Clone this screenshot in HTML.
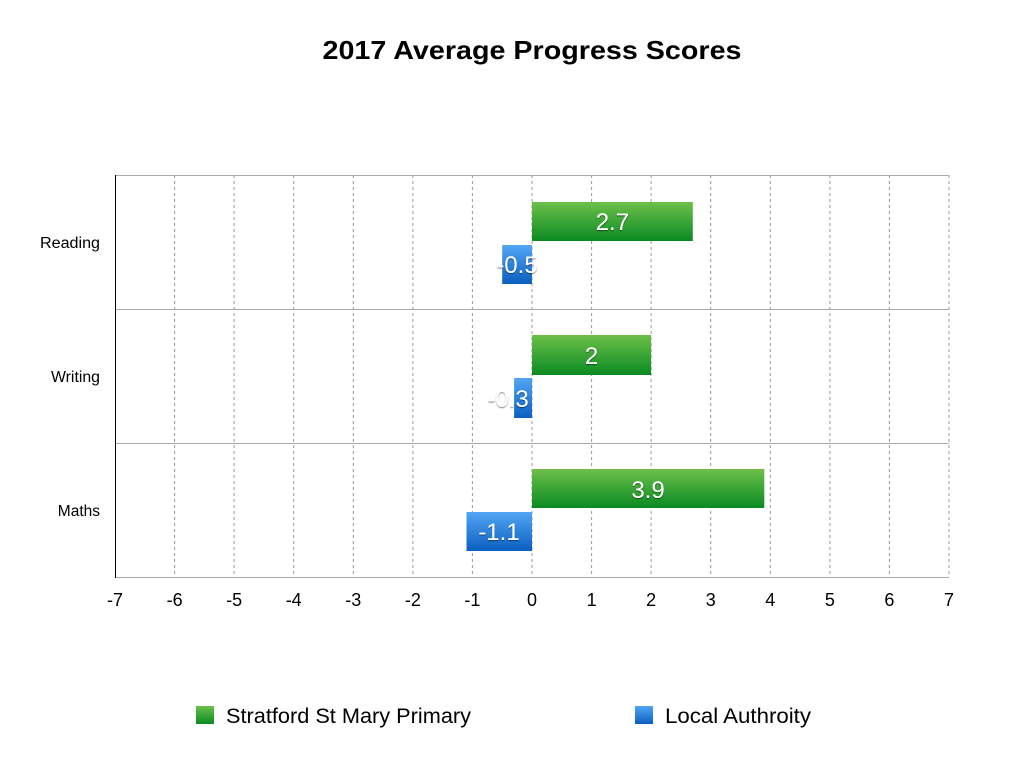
<!DOCTYPE html>
<html><head><meta charset="utf-8"><style>
html,body{margin:0;padding:0;background:#fff;}
svg{display:block;font-family:"Liberation Sans",sans-serif;}
</style></head><body>
<svg width="1024" height="768" viewBox="0 0 1024 768">
<defs>
<linearGradient id="g" x1="0" y1="0" x2="0" y2="1"><stop offset="0" stop-color="#6cc04a"/><stop offset="1" stop-color="#0a8a22"/></linearGradient>
<linearGradient id="b" x1="0" y1="0" x2="0" y2="1"><stop offset="0" stop-color="#52a6f4"/><stop offset="1" stop-color="#0a5fc0"/></linearGradient>
<filter id="s"><feDropShadow dx="0" dy="1" stdDeviation="0.6" flood-color="#000" flood-opacity="0.5"/></filter>
</defs>
<text x="532" y="59" text-anchor="middle" font-size="26" font-weight="bold" textLength="419" lengthAdjust="spacingAndGlyphs">2017 Average Progress Scores</text>
<g stroke="#999" stroke-width="1" stroke-dasharray="3,3">
<line x1="174.6" y1="175" x2="174.6" y2="577"/><line x1="234.1" y1="175" x2="234.1" y2="577"/><line x1="293.7" y1="175" x2="293.7" y2="577"/><line x1="353.3" y1="175" x2="353.3" y2="577"/><line x1="412.9" y1="175" x2="412.9" y2="577"/><line x1="472.4" y1="175" x2="472.4" y2="577"/><line x1="532" y1="175" x2="532" y2="577"/><line x1="591.6" y1="175" x2="591.6" y2="577"/><line x1="651.1" y1="175" x2="651.1" y2="577"/><line x1="710.7" y1="175" x2="710.7" y2="577"/><line x1="770.3" y1="175" x2="770.3" y2="577"/><line x1="829.9" y1="175" x2="829.9" y2="577"/><line x1="889.4" y1="175" x2="889.4" y2="577"/><line x1="949" y1="175" x2="949" y2="577"/>
</g>
<g stroke="#aaa" stroke-width="1">
<line x1="115" y1="175.5" x2="949" y2="175.5"/><line x1="115" y1="309.5" x2="949" y2="309.5"/><line x1="115" y1="443.5" x2="949" y2="443.5"/><line x1="115" y1="577.5" x2="949" y2="577.5"/>
</g>
<line x1="115.5" y1="175" x2="115.5" y2="578" stroke="#000"/>
<rect x="532" y="202" width="160.8" height="39" fill="url(#g)"/>
<rect x="502.2" y="245" width="29.8" height="39" fill="url(#b)"/>
<rect x="532" y="335" width="119.1" height="40" fill="url(#g)"/>
<rect x="514.1" y="378" width="17.9" height="40" fill="url(#b)"/>
<rect x="532" y="469" width="232.3" height="39" fill="url(#g)"/>
<rect x="466.5" y="512" width="65.5" height="39" fill="url(#b)"/>
<g fill="#fff" font-size="24" text-anchor="middle" filter="url(#s)">
<text x="612.4" y="230">2.7</text><text x="517" y="273">-0.5</text>
<text x="591.6" y="364">2</text><text x="508" y="407">-0.3</text>
<text x="648" y="498">3.9</text><text x="499" y="540">-1.1</text>
</g>
<g font-size="15.5" text-anchor="end" fill="#000">
<text x="100" y="248" textLength="60" lengthAdjust="spacingAndGlyphs">Reading</text><text x="100" y="382" textLength="49" lengthAdjust="spacingAndGlyphs">Writing</text><text x="100" y="516">Maths</text>
</g>
<g font-size="18" text-anchor="middle" fill="#000">
<text x="115" y="606">-7</text><text x="174.6" y="606">-6</text><text x="234.1" y="606">-5</text><text x="293.7" y="606">-4</text><text x="353.3" y="606">-3</text><text x="412.9" y="606">-2</text><text x="472.4" y="606">-1</text><text x="532" y="606">0</text><text x="591.6" y="606">1</text><text x="651.1" y="606">2</text><text x="710.7" y="606">3</text><text x="770.3" y="606">4</text><text x="829.9" y="606">5</text><text x="889.4" y="606">6</text><text x="949" y="606">7</text>
</g>
<rect x="196" y="706" width="18" height="18" fill="url(#g)"/>
<text x="226" y="723" font-size="21" textLength="245" lengthAdjust="spacingAndGlyphs">Stratford St Mary Primary</text>
<rect x="635" y="706" width="18" height="18" fill="url(#b)"/>
<text x="665" y="723" font-size="21" textLength="146" lengthAdjust="spacingAndGlyphs">Local Authroity</text>
</svg>
</body></html>
